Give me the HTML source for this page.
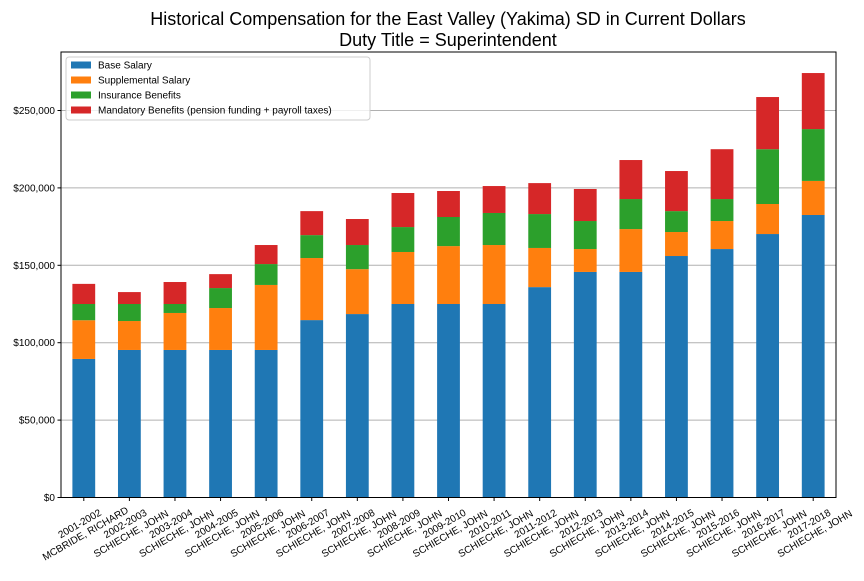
<!DOCTYPE html>
<html><head><meta charset="utf-8"><style>
body{margin:0;background:#fff;}
svg text{font-family:"Liberation Sans","DejaVu Sans",sans-serif;}
</style></head><body>
<svg id="chart" width="864" height="576" xmlns="http://www.w3.org/2000/svg">
<text x="448" y="25" text-anchor="middle" font-size="18">Historical Compensation for the East Valley (Yakima) SD in Current Dollars</text>
<text x="448" y="46" text-anchor="middle" font-size="18">Duty Title = Superintendent</text>
<g id="grid"></g><g id="bars"></g><g id="axes"></g><g id="legend"></g>
</svg>
<script>
const years=["2001-2002","2002-2003","2003-2004","2004-2005","2005-2006","2006-2007","2007-2008","2008-2009","2009-2010","2010-2011","2011-2012","2012-2013","2013-2014","2014-2015","2015-2016","2016-2017","2017-2018"];
const names=["MCBRIDE, RICHARD","SCHIECHE, JOHN","SCHIECHE, JOHN","SCHIECHE, JOHN","SCHIECHE, JOHN","SCHIECHE, JOHN","SCHIECHE, JOHN","SCHIECHE, JOHN","SCHIECHE, JOHN","SCHIECHE, JOHN","SCHIECHE, JOHN","SCHIECHE, JOHN","SCHIECHE, JOHN","SCHIECHE, JOHN","SCHIECHE, JOHN","SCHIECHE, JOHN","SCHIECHE, JOHN"];
const baseSalary=[89500,95300,95300,95300,95300,114600,118500,125000,125000,125000,135900,145700,145700,156000,160500,170200,182500];
const supplemental=[25000,18700,23900,27100,42000,40100,29000,33600,37400,38100,25300,14800,27700,15500,18100,19400,22000];
const insurance=[10500,11000,5800,12900,13500,14800,15600,16100,18800,20700,21900,18100,19400,13500,14200,35400,33500];
const mandatory=[13000,7700,14200,9000,12300,15500,16800,22000,16800,17400,20000,20700,25200,25900,32200,33700,36200];
const yTicks=[0,50000,100000,150000,200000,250000];
const seriesNames=["Base Salary","Supplemental Salary","Insurance Benefits","Mandatory Benefits (pension funding + payroll taxes)"];
const colors=["#1f77b4","#ff7f0e","#2ca02c","#d62728"];

const NS="http://www.w3.org/2000/svg";
const L=61,R=836,T=52,B=497.5;
const yMax=(B-T)/77.4*50000;
const y=v=>B-v/yMax*(B-T);
const slot=(R-L)/years.length;
const xc=i=>L+slot*(i+0.5);
const bw=slot*0.5;
function mk(tag,attrs,parent){const e=document.createElementNS(NS,tag);for(const k in attrs)e.setAttribute(k,attrs[k]);parent.appendChild(e);return e;}
const grid=document.getElementById('grid'),bars=document.getElementById('bars'),axes=document.getElementById('axes'),leg=document.getElementById('legend');
yTicks.forEach(t=>{
  if(t>0){const g=mk('line',{x1:L,x2:R,y1:y(t),y2:y(t),stroke:'#b0b0b0','stroke-width':1},grid);
  
  }
  const tk=mk('line',{x1:L-3.5,x2:L,y1:y(t),y2:y(t),stroke:'#000'},axes);
  
  
  const lb=mk('text',{x:L-6,y:y(t)+3.5,'text-anchor':'end','font-size':10},axes);
  lb.textContent='$'+t.toLocaleString('en-US');
  
  
});
const series=[baseSalary,supplemental,insurance,mandatory];
years.forEach((yr,i)=>{
  let acc=0;
  series.forEach((s,j)=>{
    const r=mk('rect',{x:xc(i)-bw/2,y:y(acc+s[i]),width:bw,height:y(acc)-y(acc+s[i]),fill:colors[j]},bars);
    
    
    acc+=s[i];
  });
  const tk=mk('line',{x1:xc(i),x2:xc(i),y1:B,y2:B+3.5,stroke:'#000'},axes);
  
  
  const t=mk('text',{transform:`translate(${xc(i)-2.5},${B+29}) rotate(-30)`,'text-anchor':'middle','font-size':10},axes);
  
  
  const a=mk('tspan',{x:0,dy:0},t);a.textContent=yr;
  const b=mk('tspan',{x:0,dy:11.5},t);b.textContent=names[i];
});
const frame=mk('rect',{x:L,y:T,width:R-L,height:B-T,fill:'none',stroke:'#000','stroke-width':1},axes);


const lb=mk('rect',{x:66,y:57,width:304,height:63,fill:'#fff','fill-opacity':0.8,stroke:'#ccc',rx:3},leg);


seriesNames.forEach((n,j)=>{
  const yy=65+j*15;
  const sw=mk('rect',{x:71,y:yy-3.5,width:20,height:7,fill:colors[j]},leg);
  
  
  const tx=mk('text',{x:98,y:yy+3.5,'font-size':10},leg);
  tx.textContent=n;
  
  
});
</script>
</body></html>
